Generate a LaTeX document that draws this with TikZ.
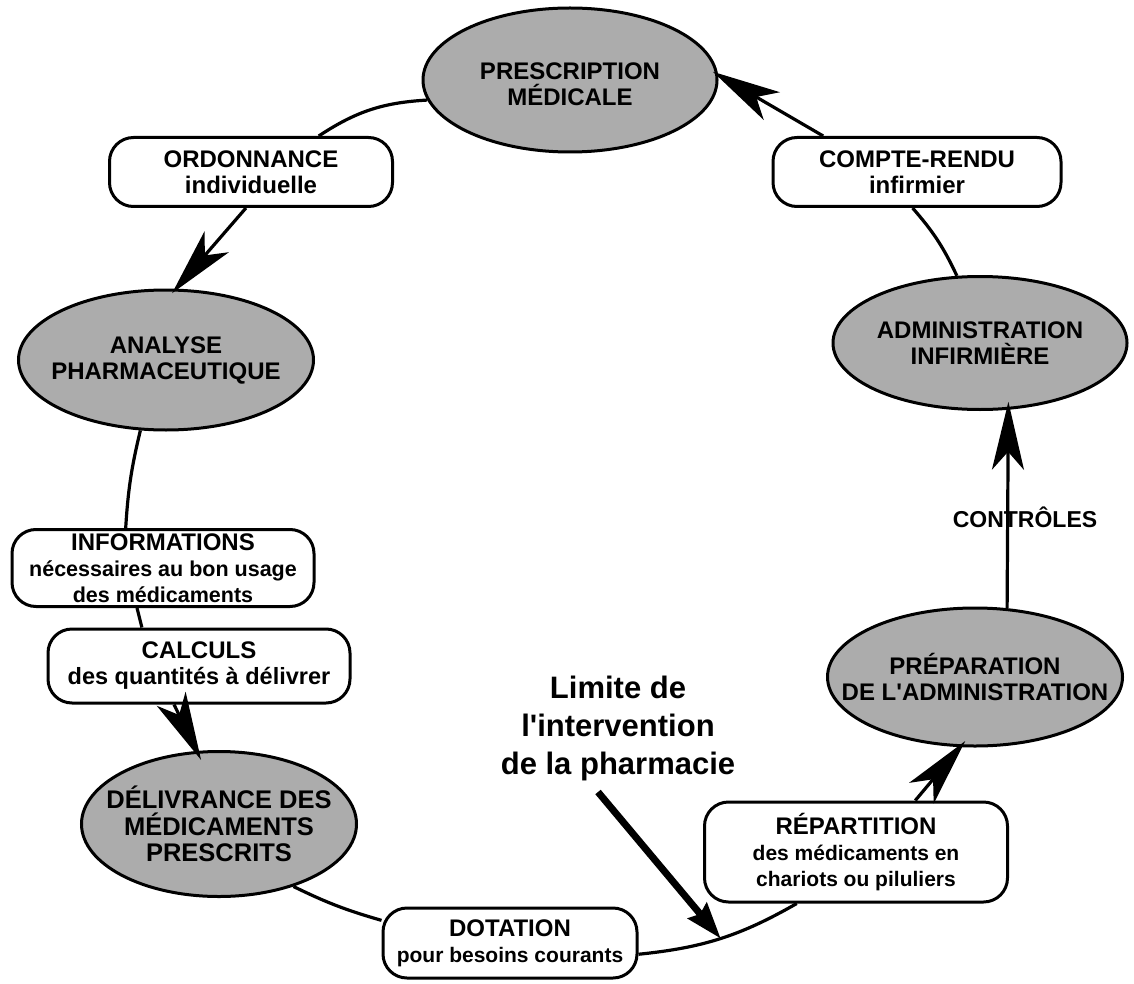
\documentclass[tikz,border=0pt]{standalone}
\usepackage{fontspec}
\setmainfont{Liberation Sans}[Ligatures=TeXOff]
\usetikzlibrary{shapes.geometric,arrows.meta}
\definecolor{ellgray}{RGB}{172,172,172}
\newcommand\boxsub[1]{{\fontsize{21}{26}\selectfont #1}}
\begin{document}
\begin{tikzpicture}[x=1pt,y=-1pt,
  ell/.style={ellipse, draw=black, line width=3pt, fill=ellgray, inner sep=0pt},
  elltext/.style={font=\bfseries\fontsize{24}{26}\selectfont, align=center, inner sep=0pt},
  pill/.style={draw=black, line width=3pt, rounded corners=24pt, fill=white, align=center, inner sep=0pt,
               font=\bfseries\fontsize{24}{26}\selectfont},
  conn/.style={line width=3.2pt},
  arr/.style={conn, -{Stealth[length=68pt, width=32pt, inset=18pt]}, shorten >=-6pt},
  bigarr/.style={line width=7pt, -{Stealth[length=36pt, width=24pt, inset=4pt]}}
]
\useasboundingbox (0,0) rectangle (1134,984);

% ellipses
\node[ell, minimum width=294pt, minimum height=144pt] (presc) at (570,80) {};
\node[elltext] (presct) at (570,84) {PRESCRIPTION\\MÉDICALE};
\node[ell, minimum width=295pt, minimum height=140pt] (analyse) at (166,360) {};
\node[elltext] (analyset) at (analyse) {ANALYSE\\PHARMACEUTIQUE};
\node[ell, minimum width=275pt, minimum height=145pt] (deliv) at (219,824) {};
\node[elltext, font=\bfseries\fontsize{25.5}{26.5}\selectfont] (delivt) at (deliv) {DÉLIVRANCE DES\\MÉDICAMENTS\\PRESCRITS};
\node[ell, minimum width=295pt, minimum height=138pt] (prep) at (975,677) {};
\node[elltext] (prept) at (prep) {PRÉPARATION\\DE L'ADMINISTRATION};
\node[ell, minimum width=294pt, minimum height=133pt] (admin) at (980,343) {};
\node[elltext] (admint) at (admin) {ADMINISTRATION\\INFIRMIÈRE};

% boxes
\node[pill, minimum width=283pt, minimum height=69pt] (ordo) at (251,172) {ORDONNANCE\\individuelle};
\node[pill, minimum width=302pt, minimum height=77pt] (info) at (163,568) {INFORMATIONS\\{\fontsize{21.5}{25}\selectfont nécessaires au bon usage}\\{\fontsize{21.5}{25}\selectfont des médicaments}};
\node[pill, minimum width=302pt, minimum height=74pt] (calc) at (199,666) {CALCULS\\{\fontsize{23.5}{28}\selectfont des quantités à délivrer}};
\node[pill, minimum width=254pt, minimum height=70pt] (dota) at (510,943) {DOTATION\\{\fontsize{21}{26}\selectfont pour besoins courants}};
\node[pill, minimum width=303pt, minimum height=100pt] (repart) at (856,852) {RÉPARTITION\\\boxsub{des médicaments en}\\\boxsub{chariots ou piluliers}};
\node[pill, minimum width=288pt, minimum height=69pt] (compte) at (917,172) {COMPTE-RENDU\\infirmier};

% connectors
\draw[conn] (presc.188) to[bend right=15] (ordo.28);
\draw[arr] (ordo.262) -- (analyse.82);
\draw[conn] (analyse.250) to[bend right=5] (info.133);
\draw[conn] (info.237) -- (calc.146);
\draw[arr, shorten >=-10pt] (calc.237) -- (deliv.107);
\draw[conn] (deliv.320) to[bend right=5] (dota.170);
\draw[conn] (dota.355) to[bend right=12] coordinate[pos=0.5] (lim) (repart.221);
\draw[arr, shorten >=-8pt] (repart.41) -- (prep.258);
\draw[arr, shorten >=-8pt] (prep.65) -- (admin.293);
\draw[conn] (admin.109) to[bend right=8] (compte.263);
\draw[arr] (compte.159) -- (presc.2);

% labels
\node[font=\bfseries\fontsize{23}{26}\selectfont, inner sep=0pt] (ctrl) at (1025,517) {CONTRÔLES};
\node[font=\bfseries\fontsize{31}{38}\selectfont, align=center, inner sep=0pt] (limite) at (618,728) {Limite de\\l'intervention\\de la pharmacie};
\coordinate (ls) at (598,792);
\draw[bigarr] (ls) -- (lim);
\end{tikzpicture}
\end{document}
